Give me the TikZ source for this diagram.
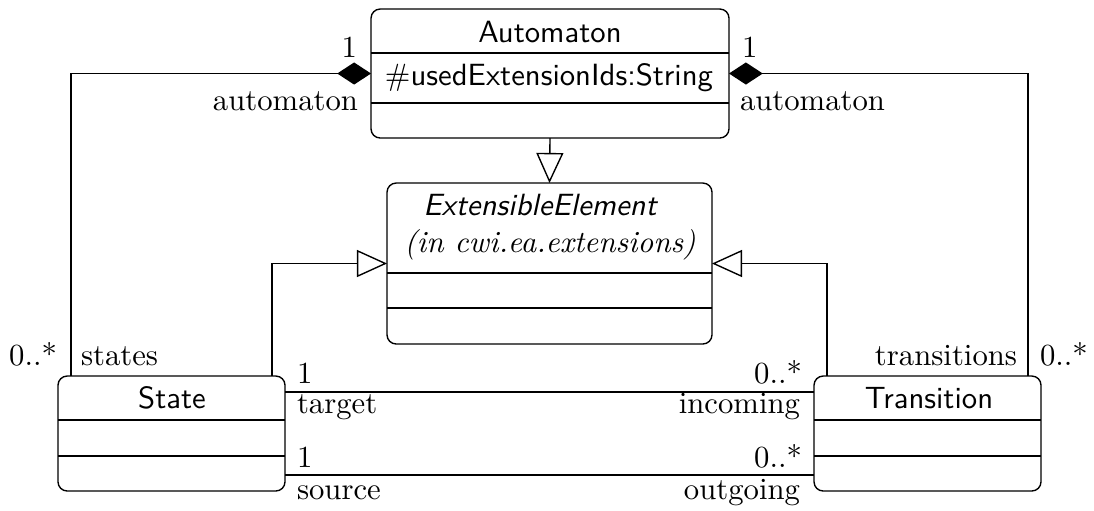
\documentclass[tikz,border=0pt]{standalone}
\usetikzlibrary{arrows.meta}
\begin{document}
\begin{tikzpicture}[x=0.3257pt,y=-0.3257pt,line width=0.45pt,
  cls/.style={draw, rounded corners=3pt, inner sep=0pt, outer sep=0pt},
  lbl/.style={inner sep=0pt, outer sep=0pt},
  gen/.style={-{Triangle[open,length=9.8pt,width=8.8pt]}},
  comp/.style={-{Diamond[length=11pt,width=7.2pt]}}]
\useasboundingbox (0,0) rectangle (1094,510);
% classes
\node[cls, minimum width=358*0.3257pt, minimum height=129*0.3257pt] (auto) at (550,73.5) {};
\node[cls, minimum width=325*0.3257pt, minimum height=161*0.3257pt] (ext) at (549.5,263.5) {};
\node[cls, minimum width=227*0.3257pt, minimum height=115*0.3257pt] (state) at (171.5,433.5) {};
\node[cls, minimum width=227*0.3257pt, minimum height=115*0.3257pt] (trans) at (927.5,433.5) {};
% separator levels
\coordinate (ya1) at (0,53);
\coordinate (ya2) at (0,103);
\coordinate (ye1) at (0,273);
\coordinate (ye2) at (0,308);
\coordinate (ys1) at (0,420);
\coordinate (ys2) at (0,456);
\draw (auto.west |- ya1) -- (auto.east |- ya1);
\draw (auto.west |- ya2) -- (auto.east |- ya2);
\draw (ext.west |- ye1) -- (ext.east |- ye1);
\draw (ext.west |- ye2) -- (ext.east |- ye2);
\draw (state.west |- ys1) -- (state.east |- ys1);
\draw (state.west |- ys2) -- (state.east |- ys2);
\draw (trans.west |- ys1) -- (trans.east |- ys1);
\draw (trans.west |- ys2) -- (trans.east |- ys2);
% class texts
\node[lbl, anchor=base] (autoN) at (550,42) {\sffamily Automaton};
\node[lbl, anchor=base] (autoA) at (549,85) {$\#$\sffamily usedExtensionIds:String};
\node[lbl, anchor=base] (extN) at (540,215) {\sffamily\slshape ExtensibleElement};
\node[lbl, anchor=base] (extP) at (550,252) {\itshape (in cwi.ea.extensions)};
\node[lbl, anchor=base] (stateN) at (172,408) {\sffamily State};
\node[lbl, anchor=base] (transN) at (929,408) {\sffamily Transition};
% connector helper coordinates
\coordinate (xl) at (71,0);
\coordinate (xr) at (1028,0);
\coordinate (xgl) at (272,0);
\coordinate (xgr) at (827,0);
\coordinate (yt) at (0,392);
\coordinate (ysrc) at (0,475);
% generalizations
\draw[gen] (auto.south) -- (ext.north);
\draw[gen] (state.north -| xgl) |- (ext.west);
\draw[gen] (trans.north -| xgr) |- (ext.east);
% compositions
\draw[comp] (state.north -| xl) |- (auto.west);
\draw[comp] (trans.north -| xr) |- (auto.east);
% associations
\draw (state.east |- yt) -- (trans.west |- yt);
\draw (state.east |- ysrc) -- (trans.west |- ysrc);
% role labels
\node[lbl, anchor=base east] (l1a) at (357,57) {1};
\node[lbl, anchor=base east] (l1b) at (358,110) {automaton};
\node[lbl, anchor=base west] (r1a) at (742,57) {1};
\node[lbl, anchor=base west] (r1b) at (740,110) {automaton};
\node[lbl, anchor=base east] (sm) at (57,365) {0..*};
\node[lbl, anchor=base west] (sr) at (81,365) {states};
\node[lbl, anchor=base east] (tr) at (1017,365) {transitions};
\node[lbl, anchor=base west] (tm) at (1040,365) {0..*};
\node[lbl, anchor=base west] (t1) at (297,383) {1};
\node[lbl, anchor=base west] (tt) at (297,413) {target};
\node[lbl, anchor=base east] (ti) at (802,383) {0..*};
\node[lbl, anchor=base east] (tin) at (800,413) {incoming};
\node[lbl, anchor=base west] (s1) at (297,467) {1};
\node[lbl, anchor=base west] (ss) at (297,499) {source};
\node[lbl, anchor=base east] (so) at (802,467) {0..*};
\node[lbl, anchor=base east] (sog) at (800,499) {outgoing};
\end{tikzpicture}
\end{document}
